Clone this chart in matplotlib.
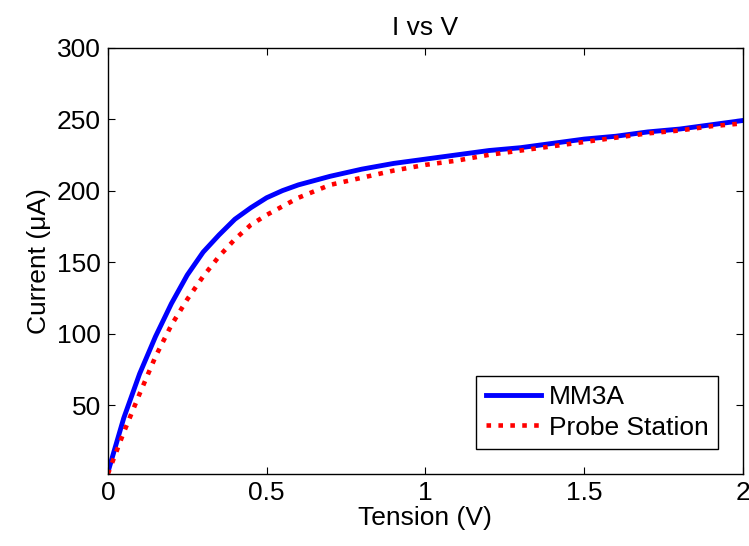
import matplotlib
matplotlib.use('Agg')
import matplotlib.pyplot as plt

plt.rcParams['font.family'] = ['Liberation Sans', 'DejaVu Sans']

# Valeurs
tension = [0, 0.05, 0.1, 0.15, 0.2, 0.25, 0.3, 0.35, 0.4, 0.45, 0.5, 0.55, 0.6,
           0.7, 0.8, 0.9, 1.0, 1.1, 1.2, 1.3, 1.4, 1.5, 1.6, 1.7, 1.8, 1.9, 2.0]
mm3a = [3, 41, 72, 98, 121, 141, 157, 169, 180, 188, 195, 200, 204,
        210, 215, 219, 222, 225, 228, 230, 233, 236, 238, 241, 243, 246, 249]
probe = [2, 31, 58, 84, 106, 124, 140, 154, 166, 176, 183, 189, 195,
         204, 209, 214, 218, 221, 225, 228, 231, 234, 237, 240, 242, 245, 247]

xticks = [0, 0.5, 1, 1.5, 2]
xticklabels = ['0', '0.5', '1', '1.5', '2']
yticks = [50, 100, 150, 200, 250, 300]

fs = 19  # taille de police commune

fig = plt.figure(figsize=(7.49, 5.46), dpi=100)
ax = fig.add_axes([0.144, 0.132, 0.848, 0.781])

ax.plot(tension, mm3a, color='#0000ff', lw=3.5, label='MM3A')
ax.plot(tension, probe, color='#ff0000', lw=3.3, linestyle=(0, (1, 1.6)),
        dash_capstyle='butt', label='Probe Station')

ax.set_xlim(0, 2)
ax.set_ylim(2, 300)
ax.set_xticks(xticks)
ax.set_xticklabels(xticklabels)
ax.set_yticks(yticks)
ax.tick_params(direction='in', length=5, width=0.8, top=True, right=True,
               labelsize=fs, pad=5)
for s in ax.spines.values():
    s.set_linewidth(1.0)

ax.set_title('I vs V', fontsize=fs, pad=9)
ax.set_xlabel('Tension (V)', fontsize=fs, labelpad=1)
ax.set_ylabel('Current (\u03bcA)', fontsize=fs, labelpad=4)

leg = ax.legend(loc='lower right', fontsize=fs, fancybox=False, framealpha=1,
                edgecolor='black', handlelength=2.1, borderaxespad=0.95,
                handletextpad=0.3, borderpad=0.35, labelspacing=0.25)
leg.get_frame().set_linewidth(1.0)

fig.savefig('out.png', dpi=100)
